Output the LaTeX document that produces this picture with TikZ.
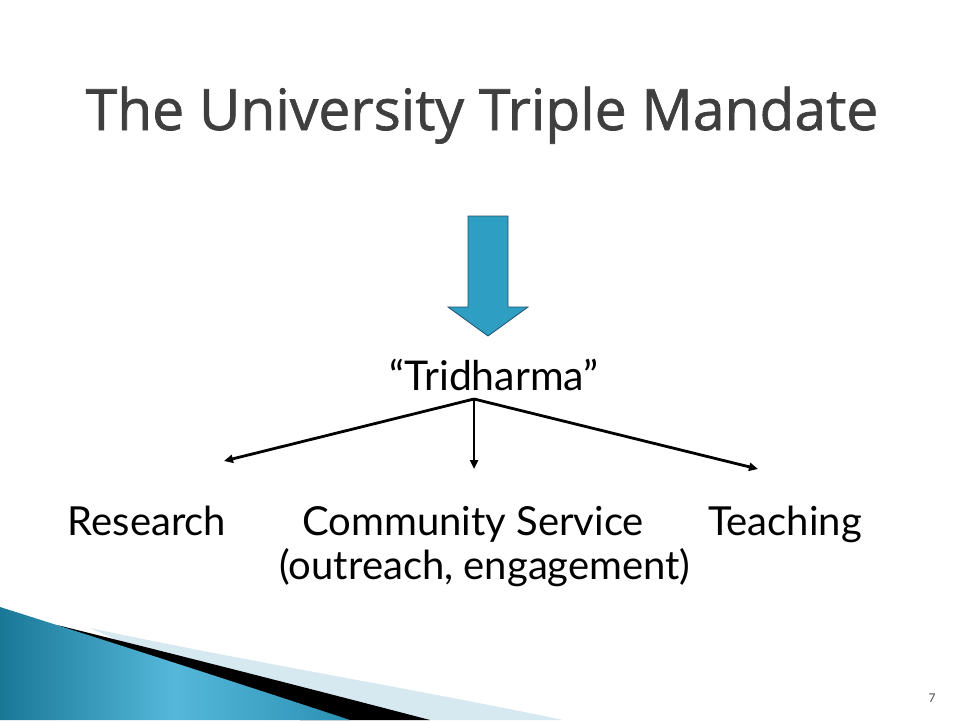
\documentclass[tikz,border=0pt]{standalone}
\usepackage{fontspec}
\setmainfont{Lato}
\newfontfamily\titlefont[FakeBold=1.2]{Open Sans}
\usetikzlibrary{arrows.meta,shadings}
\definecolor{titlegray}{HTML}{3F3F3F}
\definecolor{arrowblue}{HTML}{2E9EC2}
\definecolor{arrowedge}{HTML}{1F4F6E}
\definecolor{bandlight}{HTML}{D6E9F1}
\definecolor{tealdark}{HTML}{1A7897}
\definecolor{teallight}{HTML}{55B8DA}
\definecolor{tealmid}{HTML}{2A90B3}
\tikzset{
  titletext/.style={font=\titlefont\fontsize{57}{60}\selectfont, text=titlegray, anchor=base, inner sep=0pt},
  bodytext/.style={font=\fontsize{40}{44}\selectfont, text=black, anchor=base, inner sep=0pt},
  branch/.style={line width=2.8pt, -{Triangle[length=9pt,width=8pt]}},
}
\begin{document}
\begin{tikzpicture}[x=1pt,y=-1pt]
\useasboundingbox (0,0) rectangle (960,720);
\fill[white] (0,0) rectangle (960,720);
% bottom-left swoosh
\fill[bandlight] (90,628) .. controls (250,662) and (420,690) .. (563,720) -- (300,720) -- cycle;
\fill[black] (57,625) .. controls (150,648) and (300,686) .. (430,720) -- (300,720) -- cycle;
\shade[left color=tealdark, right color=tealmid, middle color=teallight]
  (0,607) .. controls (120,645) and (250,687) .. (350,720) -- (0,720) -- cycle;
% title
\node[titletext] (title) at (482,130) {The University Triple Mandate};
% big arrow
\draw[arrowedge, line width=0.8pt, fill=arrowblue]
  (468,216) -- (508,216) -- (508,307) -- (528,307) -- (488,336) -- (448,307) -- (468,307) -- cycle;
% Tridharma
\node[bodytext, font=\fontsize{41}{44}\selectfont] (tri) at (494,390) {“Tridharma”};
\coordinate (j) at (474,399);
\coordinate (rEnd) at (224,461);
\coordinate (cEnd) at (474,469);
\coordinate (tEnd) at (758,469);
\draw[branch] (j) -- (rEnd);
\draw[branch] (j) -- (cEnd);
\draw[branch] (j) -- (tEnd);
% labels
\node[bodytext] (research) at (147,535) {Research};
\node[bodytext] (community) at (473,535) {Community Service};
\node[bodytext] (teaching) at (785,535) {Teaching};
\node[bodytext] (outreach) at (485,579) {(outreach, engagement)};
\node[font=\fontsize{12}{14}\selectfont, text=black!70, anchor=base, inner sep=0pt] (page) at (932,702) {7};
\end{tikzpicture}
\end{document}
